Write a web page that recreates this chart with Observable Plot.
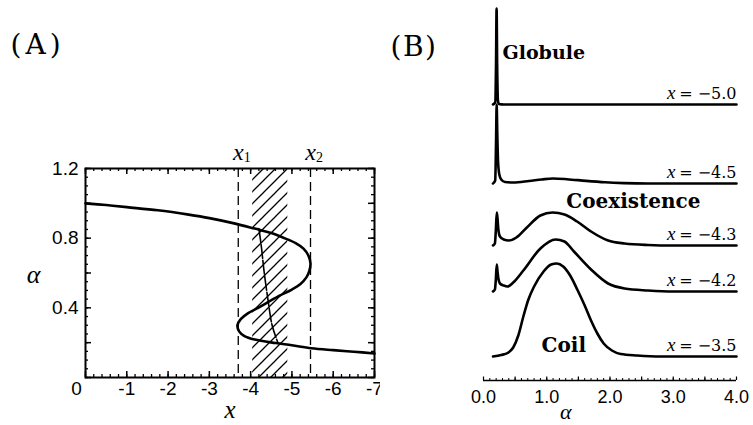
<!DOCTYPE html>
<html>
<head>
<meta charset="utf-8">
<script src="https://cdn.jsdelivr.net/npm/d3@7"></script>
<script src="https://cdn.jsdelivr.net/npm/@observablehq/plot@0.6"></script>
<style>
  html, body { margin: 0; padding: 0; background: white; }
  #wrap { position: relative; width: 753px; height: 425px; background: white; overflow: hidden; }
  #wrap svg { position: absolute; top: 0; }
</style>
</head>
<body>
<div id="wrap"></div>
<script>
// ---------- Panel A data ----------
const curveX = [0, -0.5, -1, -1.75, -2.5, -3.0, -3.6, -4.1, -4.5, -4.82, -5.1, -5.28, -5.4, -5.45, -5.42, -5.35, -5.2, -5.0, -4.7, -4.4, -4.18, -3.94, -3.76, -3.68, -3.72, -3.85, -4.1, -4.6, -5.0, -5.47, -6.0, -6.5, -7.0];
const curveA = [1.0, 0.99, 0.978, 0.96, 0.935, 0.915, 0.885, 0.855, 0.83, 0.80, 0.77, 0.74, 0.70, 0.655, 0.61, 0.575, 0.535, 0.505, 0.47, 0.43, 0.40, 0.37, 0.335, 0.30, 0.265, 0.238, 0.218, 0.198, 0.185, 0.168, 0.157, 0.148, 0.138];
const maxwellX = [-4.2, -4.26, -4.33, -4.43, -4.52, -4.66];
const maxwellA = [0.855, 0.75, 0.6, 0.43, 0.3, 0.2];
const spinodalX = [-3.7, -5.45];          // x1, x2
const spinodalNames = ["1", "2"];
const hatchFrom = [-4.05];
const hatchTo = [-4.9];
const xTickVals = [0, -1, -2, -3, -4, -5, -6, -7];
const yTickLabelVals = [0.4, 0.8, 1.2];

// ---------- Panel B data ----------
const bNames = ["−5.0", "−4.5", "−4.3", "−4.2", "−3.5"];
const bOffsets = [276, 197, 135, 89, 24];
const bAlpha = [
  [0.15, 0.185, 0.198, 0.207, 0.216, 0.228, 0.245, 0.32, 1.0, 2.0, 3.0, 4.0],
  [0.15, 0.185, 0.198, 0.208, 0.218, 0.23, 0.25, 0.28, 0.34, 0.47, 0.72, 0.92, 1.1, 1.32, 1.62, 1.92, 2.22, 2.6, 3.0, 4.0],
  [0.15, 0.18, 0.195, 0.21, 0.22, 0.235, 0.26, 0.32, 0.4, 0.52, 0.67, 0.9, 1.09, 1.28, 1.48, 1.7, 1.97, 2.23, 2.6, 3.0, 4.0],
  [0.15, 0.18, 0.195, 0.21, 0.22, 0.235, 0.26, 0.32, 0.38, 0.47, 0.63, 0.9, 1.14, 1.28, 1.43, 1.7, 1.97, 2.23, 2.6, 3.0, 4.0],
  [0.15, 0.28, 0.38, 0.47, 0.55, 0.63, 0.71, 0.8, 0.95, 1.07, 1.16, 1.26, 1.37, 1.49, 1.6, 1.7, 1.8, 1.9, 2.03, 2.17, 2.43, 2.8, 4.0]
];
const bDensity = [
  [0, 2, 40, 96, 40, 4, 0.5, 0, 0, 0, 0, 0],
  [0, 3, 40, 79, 50, 22, 9, 4, 1.5, 1, 2.5, 4, 5, 4.3, 2.6, 1.2, 0.4, 0, 0, 0],
  [0, 2, 15, 33, 28, 16, 9, 6, 5, 8, 17, 30, 33, 31, 24, 14, 5, 2, 0.5, 0, 0],
  [0, 2, 12, 27, 21, 13, 8, 6, 5, 9, 21, 43, 52, 50, 40, 22, 8, 3, 1, 0, 0],
  [0, 1.5, 3.5, 9, 21, 40, 57, 70, 85, 92, 93, 90, 81, 66, 51, 36, 23, 13, 6, 2.5, 1, 0, 0]
];
const bTickVals = [0, 1, 2, 3, 4];
const phaseNames = ["Globule", "Coexistence", "Coil"];
const phaseAlpha = [0.3, 2.37, 1.27];
const phaseLevel = [328, 179, 35];

// ---------- build tables ----------
const curve = curveX.map((x, i) => ({x, a: curveA[i]}));
const maxwell = maxwellX.map((x, i) => ({x, a: maxwellA[i]}));
const hatch = hatchFrom.map((f, i) => ({from: f, to: hatchTo[i]}));
const spin = spinodalX.map((x, i) => ({x, sub: spinodalNames[i]}));
const xMinor = d3.range(0, -7.001, -0.2).map(v => +v.toFixed(2));
const yMinor = d3.range(0, 1.2001, 0.05).map(v => +v.toFixed(3));
const yMid = d3.range(0, 1.2001, 0.2).map(v => +v.toFixed(2));

const serif = "'Liberation Serif', 'Times New Roman', serif";
const sans = "'Liberation Sans', Arial, sans-serif";
const dserif = "'DejaVu Serif', serif";
const wrap = document.getElementById("wrap");

const A = Plot.plot({
  width: 380, height: 425,
  marginLeft: 85, marginRight: 6, marginTop: 168, marginBottom: 48,
  x: {domain: [0, -7], axis: null},
  y: {domain: [0, 1.2], axis: null},
  style: {fontFamily: sans, fontSize: "19px", background: "white", color: "black", overflow: "visible"},
  marks: [
    Plot.rect(hatch, {x1: "from", x2: "to", y1: 0, y2: 1.2, fill: "url(#hatchA)"}),
    Plot.ruleX(spin, {x: "x", stroke: "black", strokeWidth: 1.3, strokeDasharray: "9,5"}),
    Plot.line(curve, {x: "x", y: "a", curve: "catmull-rom", stroke: "black", strokeWidth: 2.6}),
    Plot.line(maxwell, {x: "x", y: "a", curve: "catmull-rom", stroke: "black", strokeWidth: 1.6, strokeDasharray: "14,2"}),
    // ticks (inward, all four sides)
    Plot.ruleX(xMinor, {x: d => d, y1: 0, y2: 0, insetTop: -3, strokeWidth: 1.3}),
    Plot.ruleX(xMinor, {x: d => d, y1: 1.2, y2: 1.2, insetBottom: -3, strokeWidth: 1.3}),
    Plot.ruleX(xTickVals, {x: d => d, y1: 0, y2: 0, insetTop: -6, strokeWidth: 1.5}),
    Plot.ruleX(xTickVals, {x: d => d, y1: 1.2, y2: 1.2, insetBottom: -6, strokeWidth: 1.5}),
    Plot.ruleY(yMinor, {y: d => d, x1: 0, x2: 0, insetRight: -3, strokeWidth: 1.3}),
    Plot.ruleY(yMinor, {y: d => d, x1: -7, x2: -7, insetLeft: -3, strokeWidth: 1.3}),
    Plot.ruleY(yMid, {y: d => d, x1: 0, x2: 0, insetRight: -6, strokeWidth: 1.5}),
    Plot.ruleY(yMid, {y: d => d, x1: -7, x2: -7, insetLeft: -6, strokeWidth: 1.5}),
    Plot.frame({stroke: "black", strokeWidth: 2}),
    // tick labels
    Plot.text(xTickVals.filter(v => v !== 0), {x: d => d, y: 0, text: d => String(d), lineAnchor: "top", dy: 4, fontSize: 19, fill: "black"}),
    Plot.text([0], {x: d => d, y: 0, text: () => "0", lineAnchor: "top", dy: 4, dx: -9, fontSize: 19, fill: "black"}),
    Plot.text(yTickLabelVals, {x: 0, y: d => d, text: d => d.toFixed(1), textAnchor: "end", dx: -7, fontSize: 19, fill: "black"}),
    // axis labels
    Plot.text(["x"], {x: -3.5, y: 0, text: d => d, dy: 32, fontFamily: serif, fontStyle: "italic", fontSize: 25, fill: "black"}),
    Plot.text(["α"], {x: 0, y: 0.59, text: d => d, dx: -52, fontFamily: serif, fontStyle: "italic", fontSize: 26, fill: "black"}),
    // x1, x2 labels
    Plot.text(spin, {x: "x", y: 1.2, text: () => "x", dy: -16, fontFamily: serif, fontStyle: "italic", fontSize: 24, fill: "black"}),
    Plot.text(spin, {x: "x", y: 1.2, text: "sub", dx: 9, dy: -11, fontFamily: serif, fontSize: 14, fill: "black"}),
    // panel tag
    Plot.text(["(A)"], {frameAnchor: "top-left", text: d => d, dx: -75, dy: -134, textAnchor: "start", fontFamily: dserif, fontSize: 28, fill: "black"})
  ]
});
A.style.left = "0px";
const defs = d3.select(A).insert("defs", ":first-child");
const pat = defs.append("pattern").attr("id", "hatchA").attr("patternUnits", "userSpaceOnUse")
  .attr("width", 12).attr("height", 12);
pat.append("path").attr("d", "M-3,3 L3,-3 M0,12 L12,0 M9,15 L15,9")
  .attr("stroke", "black").attr("stroke-width", 1.3).attr("fill", "none");
d3.select(A).selectAll("text").filter(function () { return this.textContent === "(A)"; }).attr("letter-spacing", 4);
wrap.appendChild(A);

// ---------- Panel B ----------
const rows = [];
bNames.forEach((n, s) => {
  bAlpha[s].forEach((a, i) => rows.push({series: n, a, y: bOffsets[s] + bDensity[s][i]}));
});
const bLabelRows = bNames.map((n, s) => ({name: n, off: bOffsets[s]}));
const bMinor = d3.range(0, 4.0001, 0.1).map(v => +v.toFixed(2));
const bMid = d3.range(0, 4.0001, 0.5).map(v => +v.toFixed(2));
const phases = phaseNames.map((n, i) => ({n, a: phaseAlpha[i], y: phaseLevel[i]}));

const B = Plot.plot({
  width: 373, height: 425,
  marginLeft: 103, marginRight: 17, marginTop: 8, marginBottom: 45,
  x: {domain: [0, 4], axis: null},
  y: {domain: [0, 372], axis: null},
  style: {fontFamily: sans, fontSize: "18px", background: "white", color: "black", overflow: "visible"},
  marks: [
    Plot.line(rows, {x: "a", y: "y", z: "series", curve: "monotone-x", stroke: "black", strokeWidth: 2.6}),
    Plot.ruleY([0], {x1: 0, x2: 4, stroke: "black", strokeWidth: 1.6}),
    Plot.ruleX(bMinor, {x: d => d, y1: 0, y2: 0, insetTop: -2, strokeWidth: 1}),
    Plot.ruleX(bMid, {x: d => d, y1: 0, y2: 0, insetTop: -3.5, strokeWidth: 1.2}),
    Plot.text(bTickVals, {x: d => d, y: 0, text: d => d.toFixed(1), lineAnchor: "top", dy: 10, fontSize: 18, fill: "black"}),
    Plot.text(["α"], {x: 1.3, y: 0, text: d => d, dy: 31, fontFamily: serif, fontStyle: "italic", fontSize: 22, fill: "black"}),
    Plot.text(bLabelRows, {x: 4, y: "off", text: d => "= " + d.name, textAnchor: "end", dy: -11, fontFamily: dserif, fontSize: 16, fill: "black"}),
    Plot.text(bLabelRows, {x: 4, y: "off", text: () => "x", textAnchor: "end", dy: -12, dx: -61, fontFamily: serif, fontStyle: "italic", fontSize: 19, fill: "black"}),
    Plot.text(phases.slice(0, 1), {x: "a", y: "y", text: "n", textAnchor: "start", fontFamily: dserif, fontWeight: "bold", fontSize: 19, fill: "black"}),
    Plot.text(phases.slice(1), {x: "a", y: "y", text: "n", fontFamily: dserif, fontWeight: "bold", fontSize: 20, fill: "black"}),
    Plot.text(["(B)"], {frameAnchor: "top-left", text: d => d, dx: -93, dy: 28, textAnchor: "start", fontFamily: dserif, fontSize: 28, fill: "black"})
  ]
});
B.style.left = "380px";
d3.select(B).selectAll("text").filter(function () { return this.textContent === "(B)"; }).attr("letter-spacing", 1.5);
wrap.appendChild(B);
</script>
</body>
</html>
